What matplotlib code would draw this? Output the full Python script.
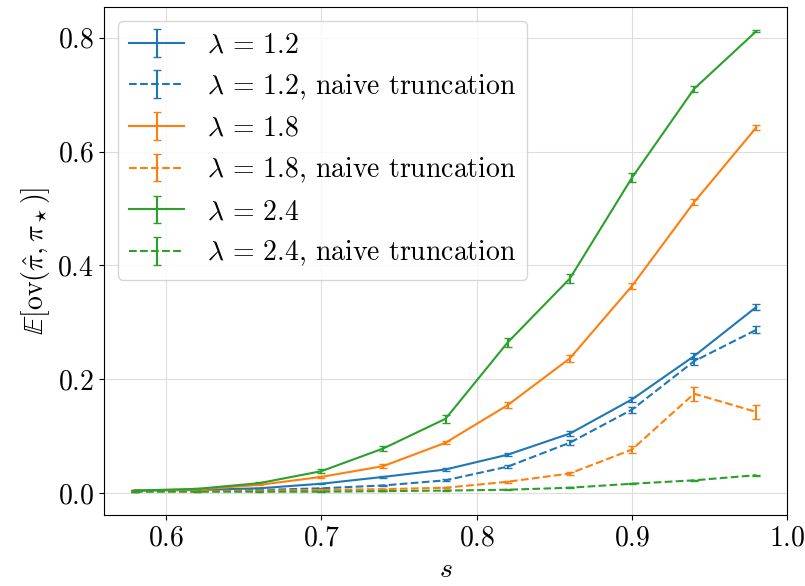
import matplotlib
matplotlib.use("Agg")
import matplotlib.pyplot as plt

plt.rcParams['font.family'] = 'serif'
plt.rcParams['font.serif'] = ['cmr10', 'DejaVu Serif']
plt.rcParams['mathtext.fontset'] = 'cm'
plt.rcParams['axes.formatter.use_mathtext'] = True
plt.rcParams['font.size'] = 20

s = [0.58, 0.62, 0.66, 0.70, 0.74, 0.78, 0.82, 0.86, 0.90, 0.94, 0.98]

l12 = [0.005, 0.006, 0.009, 0.017, 0.029, 0.042, 0.068, 0.105, 0.165, 0.241, 0.327]
l12_err = [0.001, 0.001, 0.001, 0.001, 0.002, 0.002, 0.003, 0.004, 0.005, 0.005, 0.005]
l12n = [0.004, 0.005, 0.006, 0.009, 0.014, 0.023, 0.047, 0.089, 0.147, 0.232, 0.287]
l12n_err = [0.001, 0.001, 0.001, 0.001, 0.001, 0.002, 0.003, 0.004, 0.005, 0.006, 0.006]
l18 = [0.005, 0.007, 0.015, 0.029, 0.048, 0.089, 0.155, 0.237, 0.364, 0.511, 0.642]
l18_err = [0.001, 0.001, 0.001, 0.002, 0.003, 0.003, 0.005, 0.006, 0.006, 0.005, 0.004]
l18n = [0.004, 0.004, 0.005, 0.006, 0.0075, 0.010, 0.0205, 0.035, 0.077, 0.175, 0.143]
l18n_err = [0.001, 0.001, 0.001, 0.001, 0.001, 0.001, 0.002, 0.003, 0.006, 0.012, 0.012]
l24 = [0.005, 0.008, 0.018, 0.039, 0.079, 0.131, 0.265, 0.377, 0.554, 0.710, 0.811]
l24_err = [0.001, 0.001, 0.002, 0.003, 0.005, 0.007, 0.008, 0.008, 0.008, 0.005, 0.002]
l24n = [0.003, 0.003, 0.003, 0.003, 0.004, 0.005, 0.0065, 0.010, 0.017, 0.023, 0.032]
l24n_err = [0.0005, 0.0005, 0.0005, 0.0005, 0.0005, 0.001, 0.001, 0.001, 0.001, 0.001, 0.001]

series = [
    (l12, l12_err, 'C0', '-', r'$\lambda\,=\,1.2$'),
    (l12n, l12n_err, 'C0', '--', r'$\lambda\,=\,1.2$, naive truncation'),
    (l18, l18_err, 'C1', '-', r'$\lambda\,=\,1.8$'),
    (l18n, l18n_err, 'C1', '--', r'$\lambda\,=\,1.8$, naive truncation'),
    (l24, l24_err, 'C2', '-', r'$\lambda\,=\,2.4$'),
    (l24n, l24n_err, 'C2', '--', r'$\lambda\,=\,2.4$, naive truncation'),
]

fig = plt.figure(figsize=(8.05, 5.86), dpi=100)
ax = fig.add_axes([0.129, 0.121, 0.849, 0.867])
for y, e, c, ls, lab in series:
    ax.errorbar(s, y, yerr=e, color=c, linestyle=ls, capsize=3, label=lab)

ax.grid(True, color='#dddddd')
ax.set_axisbelow(True)
ax.set_xticks([0.6, 0.7, 0.8, 0.9, 1.0])
ax.set_yticks([0.0, 0.2, 0.4, 0.6, 0.8])
ax.set_xlabel(r'$s$')
ax.set_ylabel(r'$\mathbb{E}[\mathrm{ov}(\hat{\pi}, \pi_\star)]$')
ax.legend(loc='upper left')
fig.savefig('out.png', dpi=100)
